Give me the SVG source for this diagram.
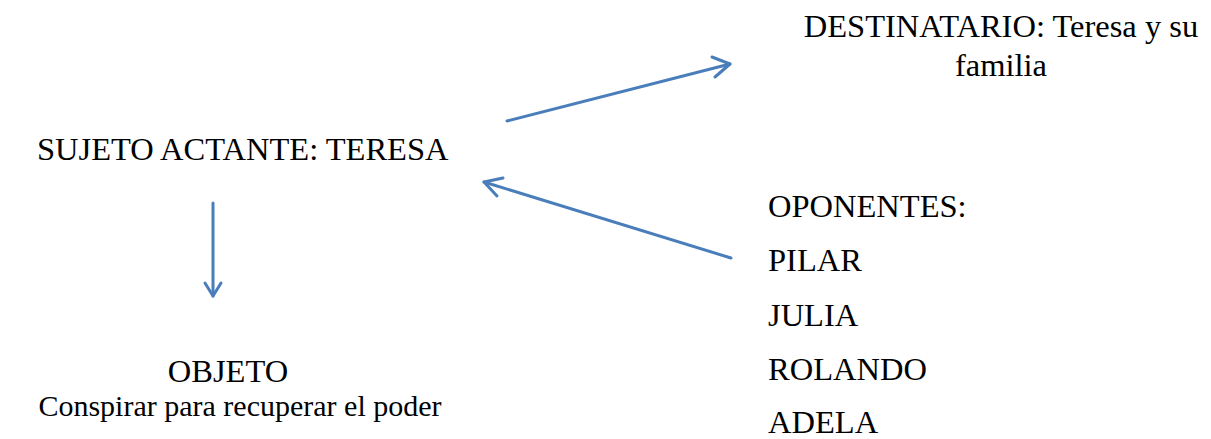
<svg xmlns="http://www.w3.org/2000/svg" width="1211" height="439" viewBox="0 0 1211 439">
  <style>
    text { font-family: "Liberation Serif", "Times New Roman", serif; font-size: 32.5px; fill: #000; }
    text.small { font-size: 30px; }
    .conn { stroke: #4A7EBB; stroke-width: 3; fill: none; stroke-linecap: round; stroke-linejoin: round; }
  </style>
  <rect width="1211" height="439" fill="#fff"/>

  <!-- connectors: straight shafts with open chevron heads -->
  <g id="connectors">
    <line class="conn" x1="507" y1="121" x2="730" y2="64"/>
    <path class="conn" d="M712,57 L730,64 L715,77"/>
    <line class="conn" x1="731" y1="258" x2="484" y2="182"/>
    <path class="conn" d="M503,178 L484,182 L497,196"/>
    <line class="conn" x1="213" y1="203" x2="213" y2="296"/>
    <path class="conn" d="M205,283 L213,296 L221,283"/>
  </g>

  <g id="sujeto">
    <text x="37" y="160">SUJETO ACTANTE: TERESA</text>
  </g>
  <g id="destinatario">
    <text x="1001" y="37" text-anchor="middle">DESTINATARIO: Teresa y su</text>
    <text x="1001" y="76" text-anchor="middle">familia</text>
  </g>
  <g id="objeto">
    <text x="228" y="382" text-anchor="middle">OBJETO</text>
    <text class="small" x="240" y="416" text-anchor="middle">Conspirar para recuperar el poder</text>
  </g>
  <g id="oponentes">
    <text x="768" y="217">OPONENTES:</text>
    <text x="768" y="271">PILAR</text>
    <text x="768" y="326">JULIA</text>
    <text x="768" y="380">ROLANDO</text>
    <text x="768" y="433">ADELA</text>
  </g>
</svg>
